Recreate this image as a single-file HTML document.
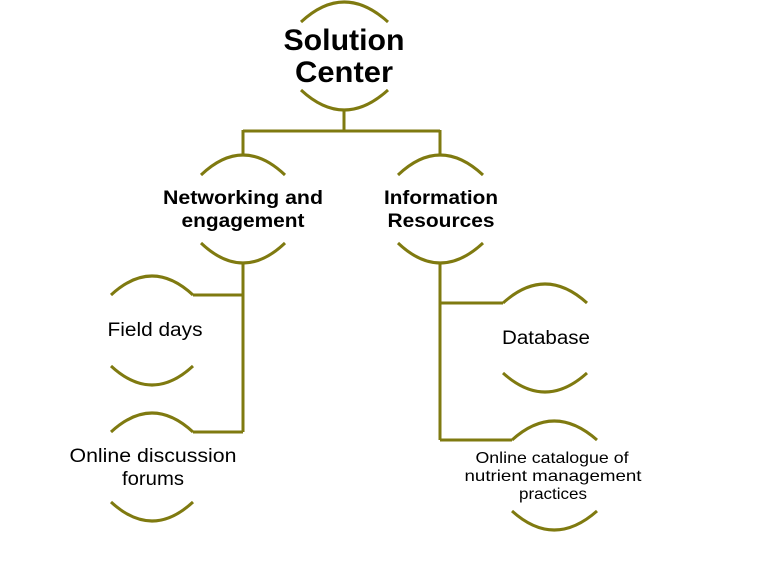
<!DOCTYPE html>
<html><head><meta charset="utf-8"><style>
html,body{margin:0;padding:0;background:#fff;}
svg{display:block;}
text{font-family:"Liberation Sans",Arial,sans-serif;fill:#000;text-anchor:middle;}
</style></head><body>
<svg width="768" height="575" viewBox="0 0 768 575" xmlns="http://www.w3.org/2000/svg">
<g fill="none" stroke="#7f7a10" stroke-width="3">
<path d="M301,22 Q344,-18 388,22"/>
<path d="M301,90 Q344,130 388,90"/>
<path d="M344,110 V131 M243,131 H440 M243,130 V155 M440,130 V155"/>
<path d="M201,175 Q243,135 285,175"/>
<path d="M201,243 Q243,283 285,243"/>
<path d="M398,175 Q440,135 483,175"/>
<path d="M398,243 Q440,283 483,243"/>
<path d="M243,263 V432 M193,295 H243 M193,432 H243"/>
<path d="M111,295 Q152,257 193,295"/>
<path d="M111,366 Q152,404 193,366"/>
<path d="M111,432 Q152,394 193,432"/>
<path d="M111,502 Q152,540 193,502"/>
<path d="M440,263 V440 M440,303 H503 M440,440 H512"/>
<path d="M503,303 Q545,265 587,303"/>
<path d="M503,373 Q545,411 587,373"/>
<path d="M512,440 Q554,402 597,440"/>
<path d="M512,511 Q554,549 597,511"/>
</g>
<text x="344" y="50" font-size="30" font-weight="bold" textLength="121" lengthAdjust="spacingAndGlyphs">Solution</text>
<text x="344" y="82" font-size="30" font-weight="bold" textLength="98" lengthAdjust="spacingAndGlyphs">Center</text>
<text x="243" y="204" font-size="19" font-weight="bold" textLength="160" lengthAdjust="spacingAndGlyphs">Networking  and</text>
<text x="243" y="227" font-size="19" font-weight="bold" textLength="123" lengthAdjust="spacingAndGlyphs">engagement</text>
<text x="441" y="204" font-size="19" font-weight="bold" textLength="114" lengthAdjust="spacingAndGlyphs">Information</text>
<text x="441" y="227" font-size="19" font-weight="bold" textLength="107" lengthAdjust="spacingAndGlyphs">Resources</text>
<text x="155" y="336" font-size="19" textLength="95" lengthAdjust="spacingAndGlyphs">Field  days</text>
<text x="153" y="462" font-size="19" textLength="167" lengthAdjust="spacingAndGlyphs">Online  discussion</text>
<text x="153" y="485" font-size="19" textLength="62" lengthAdjust="spacingAndGlyphs">forums</text>
<text x="546" y="344" font-size="19" textLength="88" lengthAdjust="spacingAndGlyphs">Database</text>
<text x="552" y="463" font-size="16" textLength="153" lengthAdjust="spacingAndGlyphs">Online catalogue of</text>
<text x="553" y="481" font-size="16" textLength="177" lengthAdjust="spacingAndGlyphs">nutrient management</text>
<text x="553" y="499" font-size="16" textLength="68" lengthAdjust="spacingAndGlyphs">practices</text>
</svg>
</body></html>
